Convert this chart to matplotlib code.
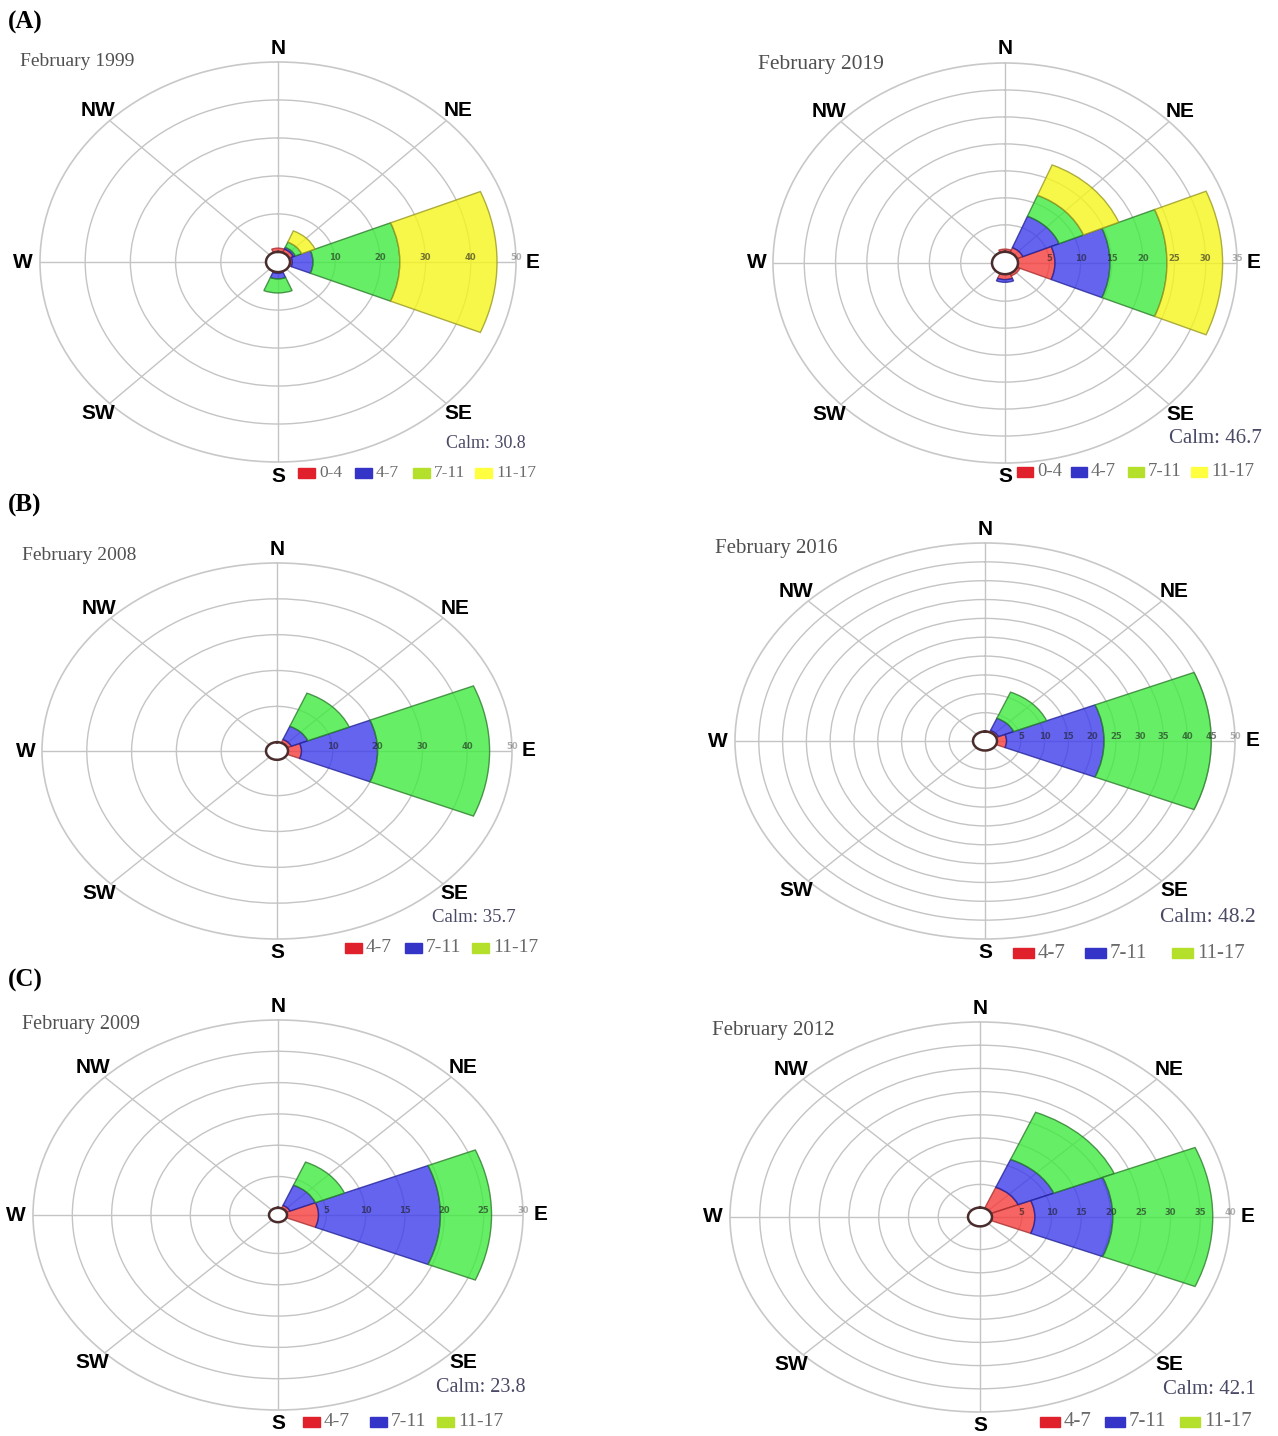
import numpy as np
import matplotlib.pyplot as plt
from matplotlib.patches import Rectangle

W, H = 1278, 1436
SERIF = ['Liberation Serif', 'DejaVu Serif']
SANS = ['Liberation Sans', 'DejaVu Sans']

dirs = ['N', 'NE', 'E', 'SE', 'S', 'SW', 'W', 'NW']
angles = np.deg2rad(np.arange(0, 360, 45))

# frequency (%) by direction (N, NE, E, SE, S, SW, W, NW), one list per speed class
feb1999_0_4 = [1.0, 1.0, 0.5, 0.0, 0.3, 0.0, 0.0, 0.0]
feb1999_4_7 = [0.0, 0.5, 4.6, 0.0, 1.5, 0.0, 0.0, 0.0]
feb1999_7_11 = [0.0, 1.5, 19.2, 0.0, 3.7, 0.0, 0.0, 0.0]
feb1999_11_17 = [0.0, 3.2, 21.5, 0.0, 0.0, 0.0, 0.0, 0.0]

feb2019_0_4 = [0.5, 1.0, 5.9, 0.5, 1.0, 0.0, 0.0, 0.0]
feb2019_4_7 = [0.0, 6.3, 8.8, 0.0, 0.5, 0.0, 0.0, 0.0]
feb2019_7_11 = [0.0, 4.2, 9.1, 0.0, 0.0, 0.0, 0.0, 0.0]
feb2019_11_17 = [0.0, 6.1, 8.9, 0.0, 0.0, 0.0, 0.0, 0.0]

feb2008_4_7 = [0.0, 1.0, 3.0, 0.0, 0.0, 0.0, 0.0, 0.0]
feb2008_7_11 = [0.0, 4.0, 17.0, 0.0, 0.0, 0.0, 0.0, 0.0]
feb2008_11_17 = [0.0, 10.0, 25.0, 0.0, 0.0, 0.0, 0.0, 0.0]

feb2016_4_7 = [0.0, 0.5, 2.0, 0.0, 0.0, 0.0, 0.0, 0.0]
feb2016_7_11 = [0.0, 3.5, 20.5, 0.0, 0.0, 0.0, 0.0, 0.0]
feb2016_11_17 = [0.0, 7.5, 22.5, 0.0, 0.0, 0.0, 0.0, 0.0]

feb2009_4_7 = [0.0, 0.5, 4.0, 0.0, 0.0, 0.0, 0.0, 0.0]
feb2009_7_11 = [0.0, 3.5, 15.5, 0.0, 0.0, 0.0, 0.0, 0.0]
feb2009_11_17 = [0.0, 4.0, 6.5, 0.0, 0.0, 0.0, 0.0, 0.0]

feb2012_4_7 = [0.0, 4.9, 7.2, 0.0, 0.0, 0.0, 0.0, 0.0]
feb2012_7_11 = [0.0, 6.5, 13.1, 0.0, 0.0, 0.0, 0.0, 0.0]
feb2012_11_17 = [0.0, 11.0, 16.8, 0.0, 0.0, 0.0, 0.0, 0.0]

calm = {'1999': 30.8, '2019': 46.7, '2008': 35.7, '2016': 48.2, '2009': 23.8, '2012': 42.1}
classes_a = ['0-4', '4-7', '7-11', '11-17']
classes_bc = ['4-7', '7-11', '11-17']

bar_fc = ['#f63d3d', '#3d3dec', '#40ec40', '#f6f61d']
bar_ec = ['#a83030', '#24249a', '#2e7d2e', '#9a9a22']
leg_fc = ['#e0202a', '#3434c8', '#b4e02c', '#ffff40']

fig = plt.figure(figsize=(W / 100, H / 100), dpi=100)


def fx(x):
    return x / W


def fy(y):
    return 1 - y / H


def rose(cx, cy, hr, vr, hole, rmax, step, bins, classes, year, title_xy, fs_title,
         calm_xy, fs_calm, leg_y, leg_x, box_w, fs_leg):
    ax = fig.add_axes([fx(cx - hr), fy(cy + vr), 2 * hr / W, 2 * vr / H], projection='polar')
    ax.set_aspect('auto')
    ax.set_theta_zero_location('N')
    ax.set_theta_direction(-1)
    ax.set_axisbelow(True)

    bottom = np.zeros(len(dirs))
    for k, vals in enumerate(bins):
        vals = np.array(vals, dtype=float)
        m = vals > 0
        ax.bar(angles[m], vals[m], width=np.deg2rad(45), bottom=bottom[m],
               color=bar_fc[k], edgecolor=bar_ec[k], linewidth=1.0, alpha=0.8, zorder=2)
        bottom += vals

    ax.set_ylim(0, rmax)
    ax.set_rorigin(-hole * rmax / (hr - hole))
    ticks = np.arange(step, rmax + 0.1, step)
    ax.set_rgrids(ticks[:-1], labels=[''] * (len(ticks) - 1))
    # radial labels sit on the east spoke, drawn as small dark marks
    for t in ticks:
        ax.text(np.pi / 2, t, f'{t:g}', ha='center', va='bottom', fontsize=6,
                fontweight='bold', color='#1a1a1a', alpha=0.6 if t < ticks[-1] else 0.35,
                zorder=4)
    ax.set_thetagrids(np.arange(0, 360, 45), labels=[''] * 8)
    ax.grid(color='#c4c4c4', linewidth=1.0)
    ax.spines['polar'].set_color('#c8c8c8')
    ax.spines['polar'].set_linewidth(1.2)
    ax.spines['inner'].set_color('#4a2c2c')
    ax.spines['inner'].set_linewidth(1.8)

    for d, a in zip(dirs, angles):
        ax.text(0.5 + 0.535 * np.sin(a), 0.5 + 0.535 * np.cos(a), d, transform=ax.transAxes,
                ha='center', va='center', fontsize=15, fontweight='bold', family=SANS)

    fig.text(fx(title_xy[0]), fy(title_xy[1]), f'February {year}', ha='left', va='center',
             fontsize=fs_title, family=SERIF, color='#505050')
    fig.text(fx(calm_xy[0]), fy(calm_xy[1]), f'Calm: {calm[year]}', ha='right', va='center',
             fontsize=fs_calm, family=SERIF, color='#4a4a66')
    for k, (lab, x0) in enumerate(zip(classes, leg_x)):
        fig.add_artist(Rectangle((fx(x0), fy(leg_y + 5)), box_w / W, 10 / H,
                                 transform=fig.transFigure, color=leg_fc[k]))
        fig.text(fx(x0 + box_w + 4), fy(leg_y), lab, ha='left', va='center',
                 fontsize=fs_leg, family=SERIF, color='#6a6a6a')


rose(278, 262, 238, 200, 12, 50, 10,
     [feb1999_0_4, feb1999_4_7, feb1999_7_11, feb1999_11_17], classes_a, '1999',
     (20, 62), 14, (526, 444), 13, 473, [298, 355, 413, 475], 17, 12.5)
rose(1005, 263, 232, 200, 13, 35, 5,
     [feb2019_0_4, feb2019_4_7, feb2019_7_11, feb2019_11_17], classes_a, '2019',
     (758, 64), 15.5, (1262, 438), 15, 472, [1017, 1071, 1128, 1191], 16, 13.5)
rose(277, 751, 235, 188, 11, 50, 10,
     [feb2008_4_7, feb2008_7_11, feb2008_11_17], classes_bc, '2008',
     (22, 556), 14, (516, 918), 13.5, 948, [345, 405, 472], 17, 14)
rose(985, 741, 250, 198, 12, 50, 5,
     [feb2016_4_7, feb2016_7_11, feb2016_11_17], classes_bc, '2016',
     (715, 548), 15, (1256, 918), 15.5, 953, [1013, 1085, 1172], 21, 15)
rose(278, 1215, 245, 195, 9, 30, 5,
     [feb2009_4_7, feb2009_7_11, feb2009_11_17], classes_bc, '2009',
     (22, 1025), 14.5, (526, 1388), 14.5, 1422, [303, 370, 437], 17, 14)
rose(980, 1217, 250, 195, 12, 40, 5,
     [feb2012_4_7, feb2012_7_11, feb2012_11_17], classes_bc, '2012',
     (712, 1030), 15, (1256, 1390), 15, 1422, [1040, 1105, 1180], 20, 15)

for lab, y in [('(A)', 22), ('(B)', 505), ('(C)', 980)]:
    fig.text(fx(8), fy(y), lab, ha='left', va='center', fontsize=18, fontweight='bold',
             family=SERIF)

fig.savefig('out.png', dpi=100)
